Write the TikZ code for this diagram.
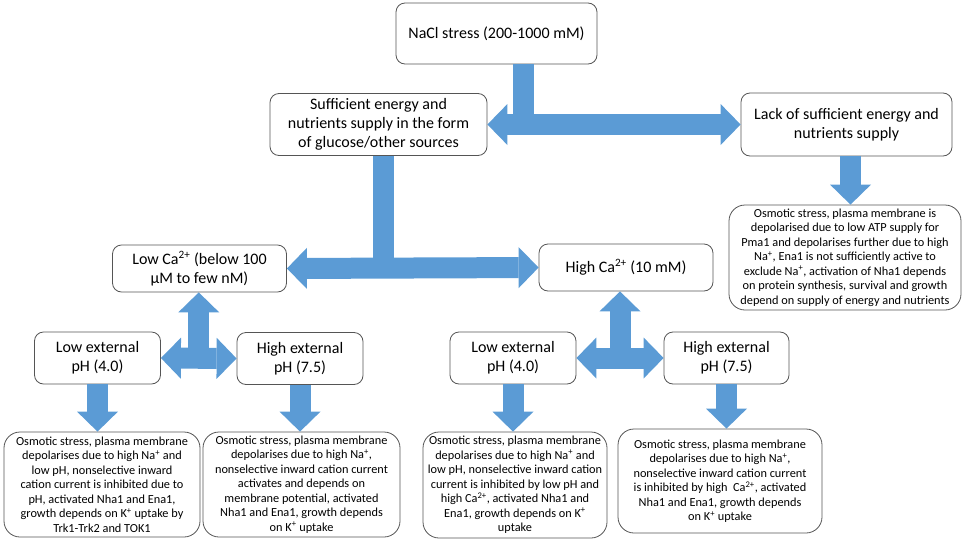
\documentclass[tikz,border=0pt]{standalone}
\usepackage{fontspec}
\setmainfont{Carlito}
\usetikzlibrary{arrows.meta,calc}
\definecolor{arrowblue}{RGB}{91,155,213}
\definecolor{boxline}{RGB}{85,85,85}

\begin{document}
\begin{tikzpicture}[x=1pt,y=-1pt,
    box/.style={draw=boxline,line width=.8pt,fill=white,rounded corners=9pt,
        align=center,inner sep=0pt,font=\fontsize{16}{19}\selectfont},
    note/.style={box,rounded corners=16pt,font=\fontsize{12.3}{14.5}\selectfont},
    stem/.style={draw=arrowblue,line width=21pt},
    flow/.style={stem,-{Triangle[width=41pt,length=20pt,line width=0pt]}},
    flowboth/.style={stem,{Triangle[width=41pt,length=20pt,line width=0pt]}-{Triangle[width=41pt,length=20pt,line width=0pt]}}]
    \useasboundingbox (0,0) rectangle (964,541);

    % top level
    \node[box,minimum width=201pt,minimum height=61pt] (nacl) at (496.5,33.5) {NaCl stress (200-1000 mM)};
    \node[box,minimum width=217pt,minimum height=62pt] (suff) at (378.5,124.5)
        {Sufficient energy and\\nutrients supply in the form\\of glucose/other sources};
    \node[box,minimum width=211pt,minimum height=63pt] (lack) at (846.5,124.5)
        {Lack of sufficient energy and\\nutrients supply};
    \node[note,minimum width=232pt,minimum height=105pt] (lackres) at (845,257.5)
        {Osmotic stress, plasma membrane is\\depolarised due to low ATP supply for\\Pma1 and depolarises further due to high\\Na\textsuperscript{+}, Ena1 is not sufficiently active to\\exclude Na\textsuperscript{+}, activation of Nha1 depends\\on protein synthesis, survival and growth\\depend on supply of energy and nutrients};

    % calcium level
    \node[box,minimum width=174pt,minimum height=47pt] (lowca) at (199.5,268.5)
        {Low Ca\textsuperscript{2+} (below 100\\µM to few nM)};
    \node[box,minimum width=174pt,minimum height=47pt] (highca) at (626,267.5)
        {High Ca\textsuperscript{2+} (10 mM)};

    % pH level
    \node[box,minimum width=126pt,minimum height=52pt] (lp1) at (97.5,358) {Low external\\pH (4.0)};
    \node[box,minimum width=126pt,minimum height=52pt] (hp1) at (300,358.5) {High external\\pH (7.5)};
    \node[box,minimum width=126pt,minimum height=52pt] (lp2) at (513,358) {Low external\\pH (4.0)};
    \node[box,minimum width=125pt,minimum height=52pt] (hp2) at (726.5,358) {High external\\pH (7.5)};

    % outcomes
    \node[note,minimum width=196pt,minimum height=105pt] (res1) at (102,484.5)
        {Osmotic stress, plasma membrane\\depolarises due to high Na\textsuperscript{+} and\\low pH, nonselective inward\\cation current is inhibited due to\\pH, activated Nha1 and Ena1,\\growth depends on K\textsuperscript{+} uptake by\\Trk1-Trk2 and TOK1};
    \node[note,minimum width=197pt,minimum height=105pt] (res2) at (301.5,484.5)
        {Osmotic stress, plasma membrane\\depolarises due to high Na\textsuperscript{+},\\nonselective inward cation current\\activates and depends on\\membrane potential, activated\\Nha1 and Ena1, growth depends\\on K\textsuperscript{+} uptake};
    \node[note,minimum width=184pt,minimum height=106pt] (res3) at (515,485)
        {Osmotic stress, plasma membrane\\depolarises due to high Na\textsuperscript{+} and\\low pH, nonselective inward cation\\current is inhibited by low pH and\\high Ca\textsuperscript{2+}, activated Nha1 and\\Ena1, growth depends on K\textsuperscript{+}\\uptake};
    \node[note,minimum width=204pt,minimum height=104pt] (res4) at (720,481)
        {Osmotic stress, plasma membrane\\depolarises due to high Na\textsuperscript{+},\\nonselective inward cation current\\is inhibited by high\ \ Ca\textsuperscript{2+}, activated\\Nha1 and Ena1, growth depends\\on K\textsuperscript{+} uptake};

    % block arrows
    \draw[stem] ([xshift=27pt]nacl.south) -- ([xshift=27pt]nacl.south |- suff.east);
    \draw[flowboth] (suff.east) -- (lack.west);
    \draw[flow] ([xshift=4pt]lack.south) -- ([xshift=4pt]lack.south |- lackres.north);
    \draw[stem] ([xshift=4.5pt]suff.south) -- ([xshift=4.5pt]suff.south |- lowca.east);
    \draw[flowboth] (lowca.east) -- (highca.west);
    \foreach \ca/\lp/\hp in {lowca/lp1/hp1,highca/lp2/hp2}{
        \draw[flowboth] (\lp.east) -- (\hp.west);
        \coordinate (mid) at ($(\lp.east)!.5!(\hp.west)$);
        \draw[flow] (mid) -- (mid |- \ca.south);
    }
    \foreach \a/\b in {lp1/res1,hp1/res2,lp2/res3,hp2/res4}
        \draw[flow] (\a.south) -- (\a.south |- \b.north);
\end{tikzpicture}
\end{document}
